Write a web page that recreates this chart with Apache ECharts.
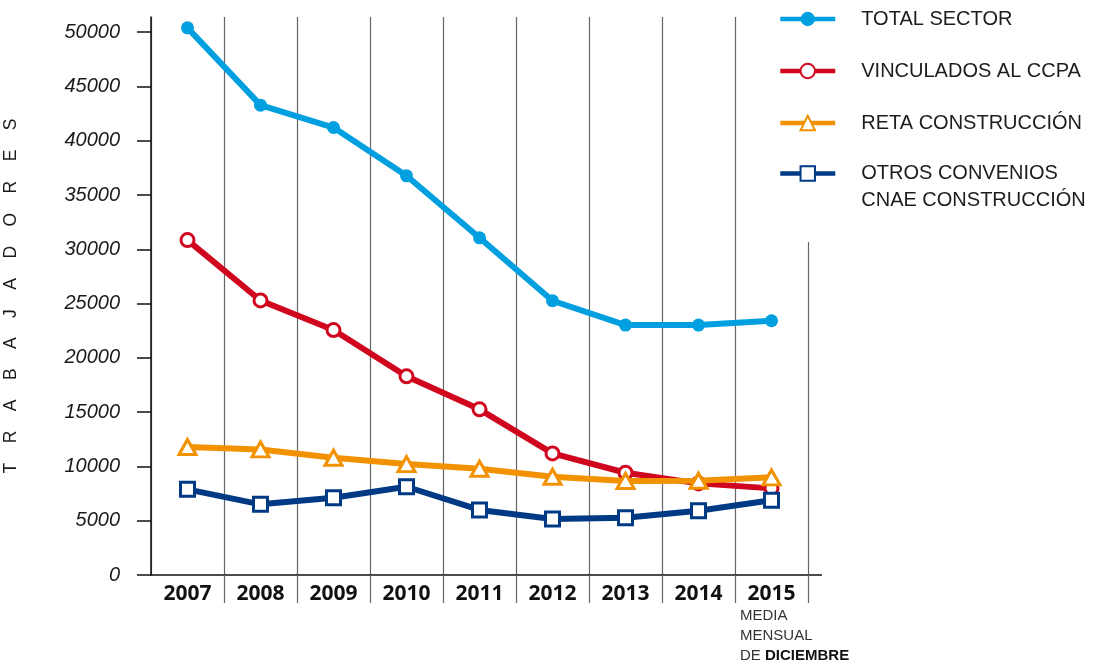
<!DOCTYPE html>
<html>
<head>
<meta charset="utf-8">
<script src="https://cdn.jsdelivr.net/npm/echarts@6/dist/echarts.min.js"></script>
<style>
  html, body { margin: 0; padding: 0; background: #fff; }
  #main { width: 1094px; height: 661px; }
</style>
</head>
<body>
<div id="main"></div>
<script>
// datos
var years = ['2007', '2008', '2009', '2010', '2011', '2012', '2013', '2014', '2015'];
var totalSector = [50400, 43280, 41220, 36770, 31060, 25260, 23020, 23020, 23420];
var vinculados = [30850, 25290, 22560, 18300, 15260, 11200, 9420, 8440, 7980];
var reta = [11790, 11570, 10800, 10220, 9790, 9050, 8660, 8680, 9000];
var otros = [7890, 6510, 7120, 8130, 5990, 5160, 5280, 5920, 6880];
var yTicks = [0, 5000, 10000, 15000, 20000, 25000, 30000, 35000, 40000, 45000, 50000];

var names = ['TOTAL SECTOR', 'VINCULADOS AL CCPA', 'RETA CONSTRUCCIÓN', 'OTROS CONVENIOS\nCNAE CONSTRUCCIÓN'];

var chart = echarts.init(document.getElementById('main'));

var gridLeft = 151, gridRight = 286, gridTop = 17, gridBottom = 86;
var font = '"Liberation Sans", Arial, sans-serif';

var option = {
  animation: false,
  title: {
    left: 740,
    top: 606,
    padding: 0,
    text: '{n|MEDIA}\n{n|MENSUAL}\n{n|DE }{b|DICIEMBRE}',
    textStyle: {
      fontWeight: 'normal',
      rich: {
        n: { fontFamily: font, fontSize: 15, fontWeight: 'normal', color: '#333', lineHeight: 20 },
        b: { fontFamily: font, fontSize: 15, fontWeight: 'bold', color: '#111', lineHeight: 20 }
      }
    }
  },
  legend: [
    {
      z: 5,
      left: 773,
      top: 2,
      orient: 'vertical',
      selectedMode: false,
      backgroundColor: '#fff',
      itemWidth: 55,
      itemHeight: 18,
      itemGap: 28,
      lineStyle: { width: 4.5 },
      data: names.slice(0, 3),
      textStyle: { fontFamily: font, fontSize: 20, lineHeight: 24, color: '#1d1d1b', padding: [0, 0, 0, 21] }
    },
    {
      // segundo bloque: la leyenda de dos líneas
      z: 3,
      left: 773,
      top: 128,
      padding: [5, 5, 28, 5],
      orient: 'vertical',
      selectedMode: false,
      backgroundColor: '#fff',
      itemWidth: 55,
      itemHeight: 18,
      lineStyle: { width: 4.5 },
      data: names.slice(3),
      formatter: function (name) { return ' \n' + name; },
      textStyle: { fontFamily: font, fontSize: 20, lineHeight: 27, color: '#1d1d1b', padding: [0, 0, 0, 21] }
    }
  ],
  grid: {
    left: gridLeft, right: gridRight, top: gridTop, bottom: gridBottom,
    containLabel: false, outerBoundsMode: 'none'
  },
  xAxis: {
    type: 'category',
    data: years,
    boundaryGap: true,
    axisLine: { lineStyle: { color: '#111', width: 1.5 } },
    axisTick: {
      show: true,
      length: 28,
      interval: function (i) { return i > 0; },
      lineStyle: { color: '#666', width: 1.2 }
    },
    splitLine: { show: true, lineStyle: { color: '#666', width: 1.2 } },
    axisLabel: {
      margin: 9,
      fontFamily: '"Open Sans", sans-serif',
      fontWeight: 'bold',
      fontSize: 21,
      lineHeight: 21,
      color: '#111'
    }
  },
  yAxis: {
    type: 'value',
    min: 0,
    max: 51400,
    interval: 5000,
    name: 'T    R    A    B    A    J    A    D    O    R    E    S',
    nameLocation: 'middle',
    nameGap: 131,
    nameTextStyle: { fontFamily: font, fontSize: 17.5, color: '#1a1a1a' },
    axisLine: { show: true, lineStyle: { color: '#111', width: 1.5 } },
    axisTick: { show: true, length: 14, customValues: yTicks, lineStyle: { color: '#111', width: 1.5 } },
    splitLine: { show: false },
    axisLabel: {
      customValues: yTicks,
      margin: 31,
      fontFamily: font,
      fontStyle: 'italic',
      fontSize: 20,
      color: '#1a1a1a',
      formatter: function (v) { return String(v); }
    }
  },
  series: [
    {
      name: names[0],
      type: 'line',
      data: totalSector,
      symbol: 'circle',
      symbolSize: 13,
      lineStyle: { color: '#00a0e0', width: 6 },
      itemStyle: { color: '#00a0e0' },
      z: 5
    },
    {
      name: names[1],
      type: 'line',
      data: vinculados,
      symbol: 'circle',
      symbolSize: 13,
      lineStyle: { color: '#d0061f', width: 6 },
      itemStyle: { color: '#fff', borderColor: '#d0061f', borderWidth: 3 },
      z: 3
    },
    {
      name: names[2],
      type: 'line',
      data: reta,
      symbol: 'triangle',
      symbolSize: [17, 15],
      lineStyle: { color: '#f39200', width: 6 },
      itemStyle: { color: '#fff', borderColor: '#f39200', borderWidth: 3 },
      z: 4
    },
    {
      name: names[3],
      type: 'line',
      data: otros,
      symbol: 'rect',
      symbolSize: 14,
      lineStyle: { color: '#003a84', width: 6 },
      itemStyle: { color: '#fff', borderColor: '#003a84', borderWidth: 3 },
      z: 4
    }
  ],
  graphic: [
    {
      type: 'line',
      shape: { x1: 1094 - gridRight, y1: 661 - gridBottom, x2: 1094 - gridRight + 14, y2: 661 - gridBottom },
      style: { stroke: '#111', lineWidth: 1.5 }
    }
  ]
};

chart.setOption(option);
</script>
</body>
</html>
